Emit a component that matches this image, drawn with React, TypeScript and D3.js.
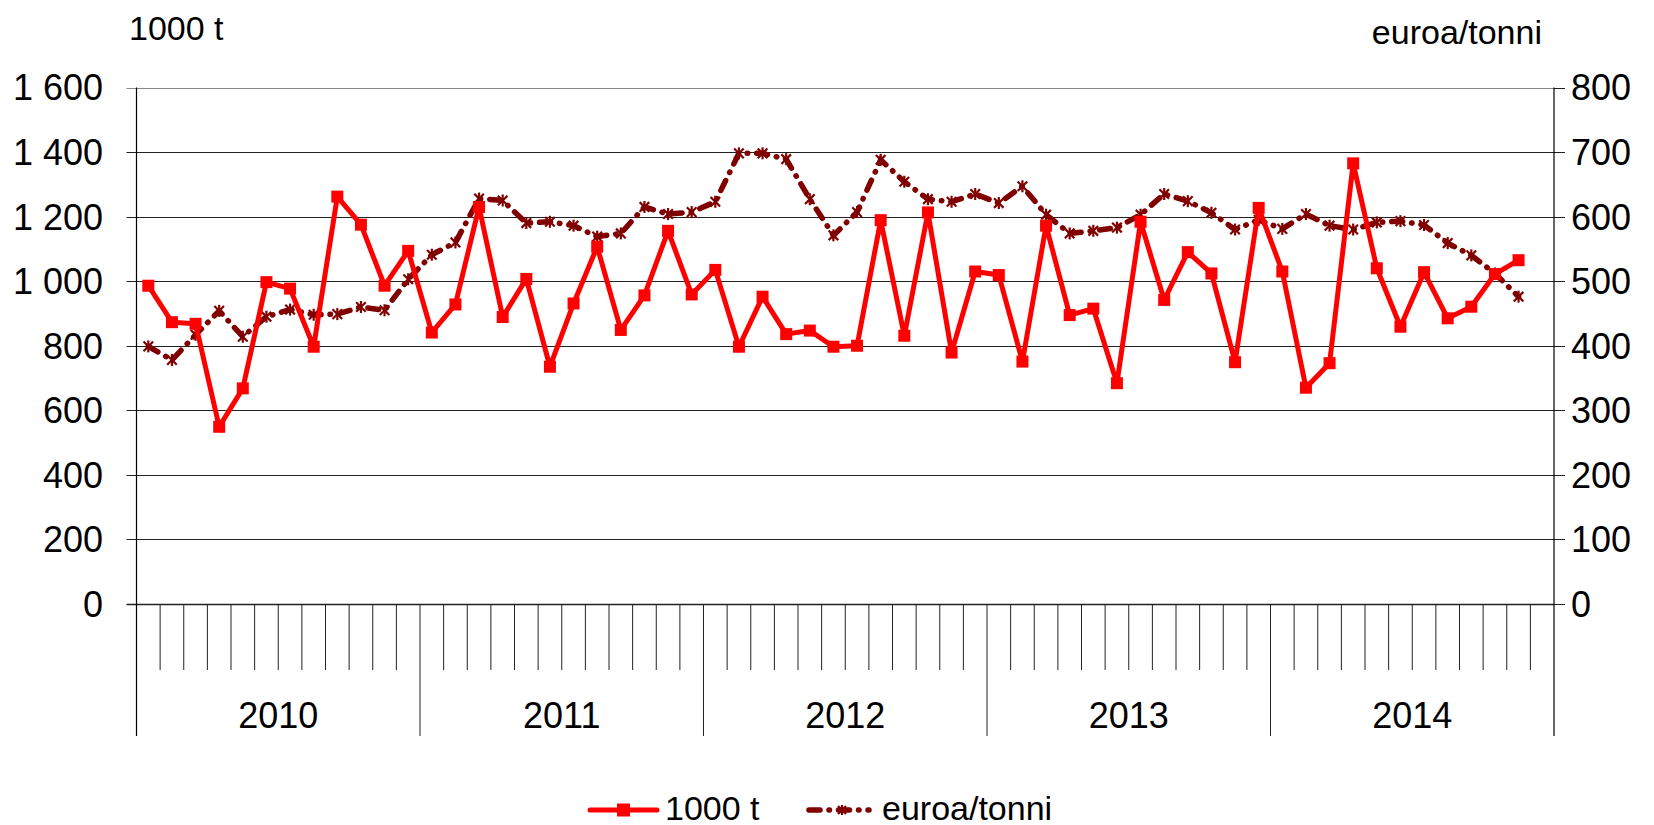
import * as d3 from "d3";

const YEARS = ["2010", "2011", "2012", "2013", "2014"];
const LEFT_TICKS = [0, 200, 400, 600, 800, 1000, 1200, 1400, 1600];
const RIGHT_TICKS = [0, 100, 200, 300, 400, 500, 600, 700, 800];

// 1000 t, Jan 2010 .. Nov 2014
const tonnes = [
  986, 873, 868, 549, 668, 997, 977, 797, 1262, 1175, 986, 1094,
  841, 928, 1230, 889, 1007, 735, 931, 1107, 849, 956, 1156, 959,
  1035, 797, 952, 836, 847, 797, 800, 1189, 831, 1213, 779, 1030,
  1019, 751, 1172, 895, 915, 684, 1184, 942, 1090, 1024, 749, 1227,
  1030, 670, 746, 1365, 1040, 859, 1028, 885, 921, 1022, 1065,
];

// euroa/tonni
const price = [
  399, 378, 417, 454, 414, 445, 456, 448, 449, 460, 455, 503,
  541, 560, 628, 625, 590, 592, 586, 569, 574, 615, 604, 607,
  623, 698, 698, 689, 627, 571, 607, 688, 654, 627, 623, 635,
  621, 647, 603, 574, 578, 583, 603, 635, 624, 606, 580, 595,
  581, 604, 586, 580, 591, 593, 587, 559, 540, 512, 476,
];

const W = 1654;
const H = 825;
const LEFT = 136.5;
const RIGHT = 1554;
const TOP = 87.5;
const BOTTOM = 604;
const RED = "#ff0000";
const DARK = "#800000";
const FONT = "'Liberation Sans', Arial, sans-serif";

const fmt = (v: number) => {
  const s = String(v);
  return s.length > 3 ? s.slice(0, s.length - 3) + " " + s.slice(-3) : s;
};

const months = d3.range(YEARS.length * 12);

const Star = ({ x, y, s = 6 }: { x: number; y: number; s?: number }) => (
  <g stroke={DARK} strokeWidth={2.2}>
    <line x1={x - s * 0.8} y1={y - s * 0.8} x2={x + s * 0.8} y2={y + s * 0.8} />
    <line x1={x - s * 0.8} y1={y + s * 0.8} x2={x + s * 0.8} y2={y - s * 0.8} />
    <line x1={x} y1={y - s} x2={x} y2={y + s} />
  </g>
);

export default function App() {
  const x = d3.scaleBand<number>().domain(months).range([LEFT, RIGHT]);
  const yL = d3.scaleLinear().domain([0, 1600]).range([BOTTOM, TOP]);
  const yR = d3.scaleLinear().domain([0, 800]).range([BOTTOM, TOP]);
  const cx = (i: number) => (x(i) as number) + x.bandwidth() / 2;

  const redLine = d3
    .line<number>()
    .x((_, i) => cx(i))
    .y((d) => yL(d));
  const darkLine = d3
    .line<number>()
    .x((_, i) => cx(i))
    .y((d) => yR(d));

  const yearW = x.bandwidth() * 12;

  return (
    <svg
      width={W}
      height={H}
      style={{ position: "absolute", left: 0, top: 0, background: "#fff" }}
      fontFamily={FONT}
    >
      {/* gridlines */}
      {LEFT_TICKS.map((t) => (
        <g key={t}>
          <line
            x1={LEFT - 10}
            x2={RIGHT}
            y1={Math.round(yL(t)) + 0.5}
            y2={Math.round(yL(t)) + 0.5}
            stroke={t === 1600 ? "#888" : "#222"}
            strokeWidth={t === 0 ? 1.5 : 1}
          />
          <text
            x={103}
            y={yL(t)}
            dy="0.36em"
            textAnchor="end"
            fontSize={36}
          >
            {fmt(t)}
          </text>
        </g>
      ))}
      {RIGHT_TICKS.map((t) => (
        <g key={t}>
          <line
            x1={RIGHT}
            x2={RIGHT + 11}
            y1={Math.round(yR(t)) + 0.5}
            y2={Math.round(yR(t)) + 0.5}
            stroke="#222"
          />
          <text x={1571} y={yR(t)} dy="0.36em" fontSize={36}>
            {t}
          </text>
        </g>
      ))}

      {/* axes */}
      <line x1={LEFT} x2={LEFT} y1={TOP} y2={736} stroke="#000" strokeWidth={1.2} />
      <line x1={RIGHT} x2={RIGHT} y1={TOP} y2={736} stroke="#000" strokeWidth={1.2} />

      {/* month ticks */}
      {months.slice(1).map((m) => (
        <line
          key={m}
          x1={x(m)}
          x2={x(m)}
          y1={BOTTOM}
          y2={m % 12 === 0 ? 736 : 670}
          stroke="#222"
          strokeWidth={1}
        />
      ))}
      {YEARS.map((yr, i) => (
        <text
          key={yr}
          x={LEFT + yearW * i + yearW / 2}
          y={715}
          dy="0.36em"
          textAnchor="middle"
          fontSize={36}
        >
          {yr}
        </text>
      ))}

      {/* axis titles */}
      <text x={129} y={28} dy="0.36em" fontSize={34}>
        1000 t
      </text>
      <text x={1542} y={32} dy="0.36em" textAnchor="end" fontSize={34}>
        euroa/tonni
      </text>

      {/* series */}
      <path
        d={darkLine(price) as string}
        fill="none"
        stroke={DARK}
        strokeWidth={5.5}
        strokeDasharray="11 9 0.5 9"
        strokeLinecap="round"
      />
      {price.map((d, i) => (
        <Star key={i} x={cx(i)} y={yR(d)} />
      ))}
      <path
        d={redLine(tonnes) as string}
        fill="none"
        stroke={RED}
        strokeWidth={5}
        strokeLinejoin="round"
      />
      {tonnes.map((d, i) => (
        <rect key={i} x={cx(i) - 6} y={yL(d) - 6} width={12} height={12} fill={RED} />
      ))}

      {/* legend */}
      <g>
        <line
          x1={590}
          x2={657}
          y1={810}
          y2={810}
          stroke={RED}
          strokeWidth={5}
          strokeLinecap="round"
        />
        <rect x={617} y={803.5} width={13} height={13} fill={RED} />
        <text x={665} y={808} dy="0.36em" fontSize={34}>
          1000 t
        </text>
        <line
          x1={809}
          x2={869}
          y1={810}
          y2={810}
          stroke={DARK}
          strokeWidth={5.5}
          strokeDasharray="11 9 0.5 9"
          strokeLinecap="round"
        />
        <Star x={842} y={810} s={5} />
        <text x={882} y={808} dy="0.36em" fontSize={34}>
          euroa/tonni
        </text>
      </g>
    </svg>
  );
}
